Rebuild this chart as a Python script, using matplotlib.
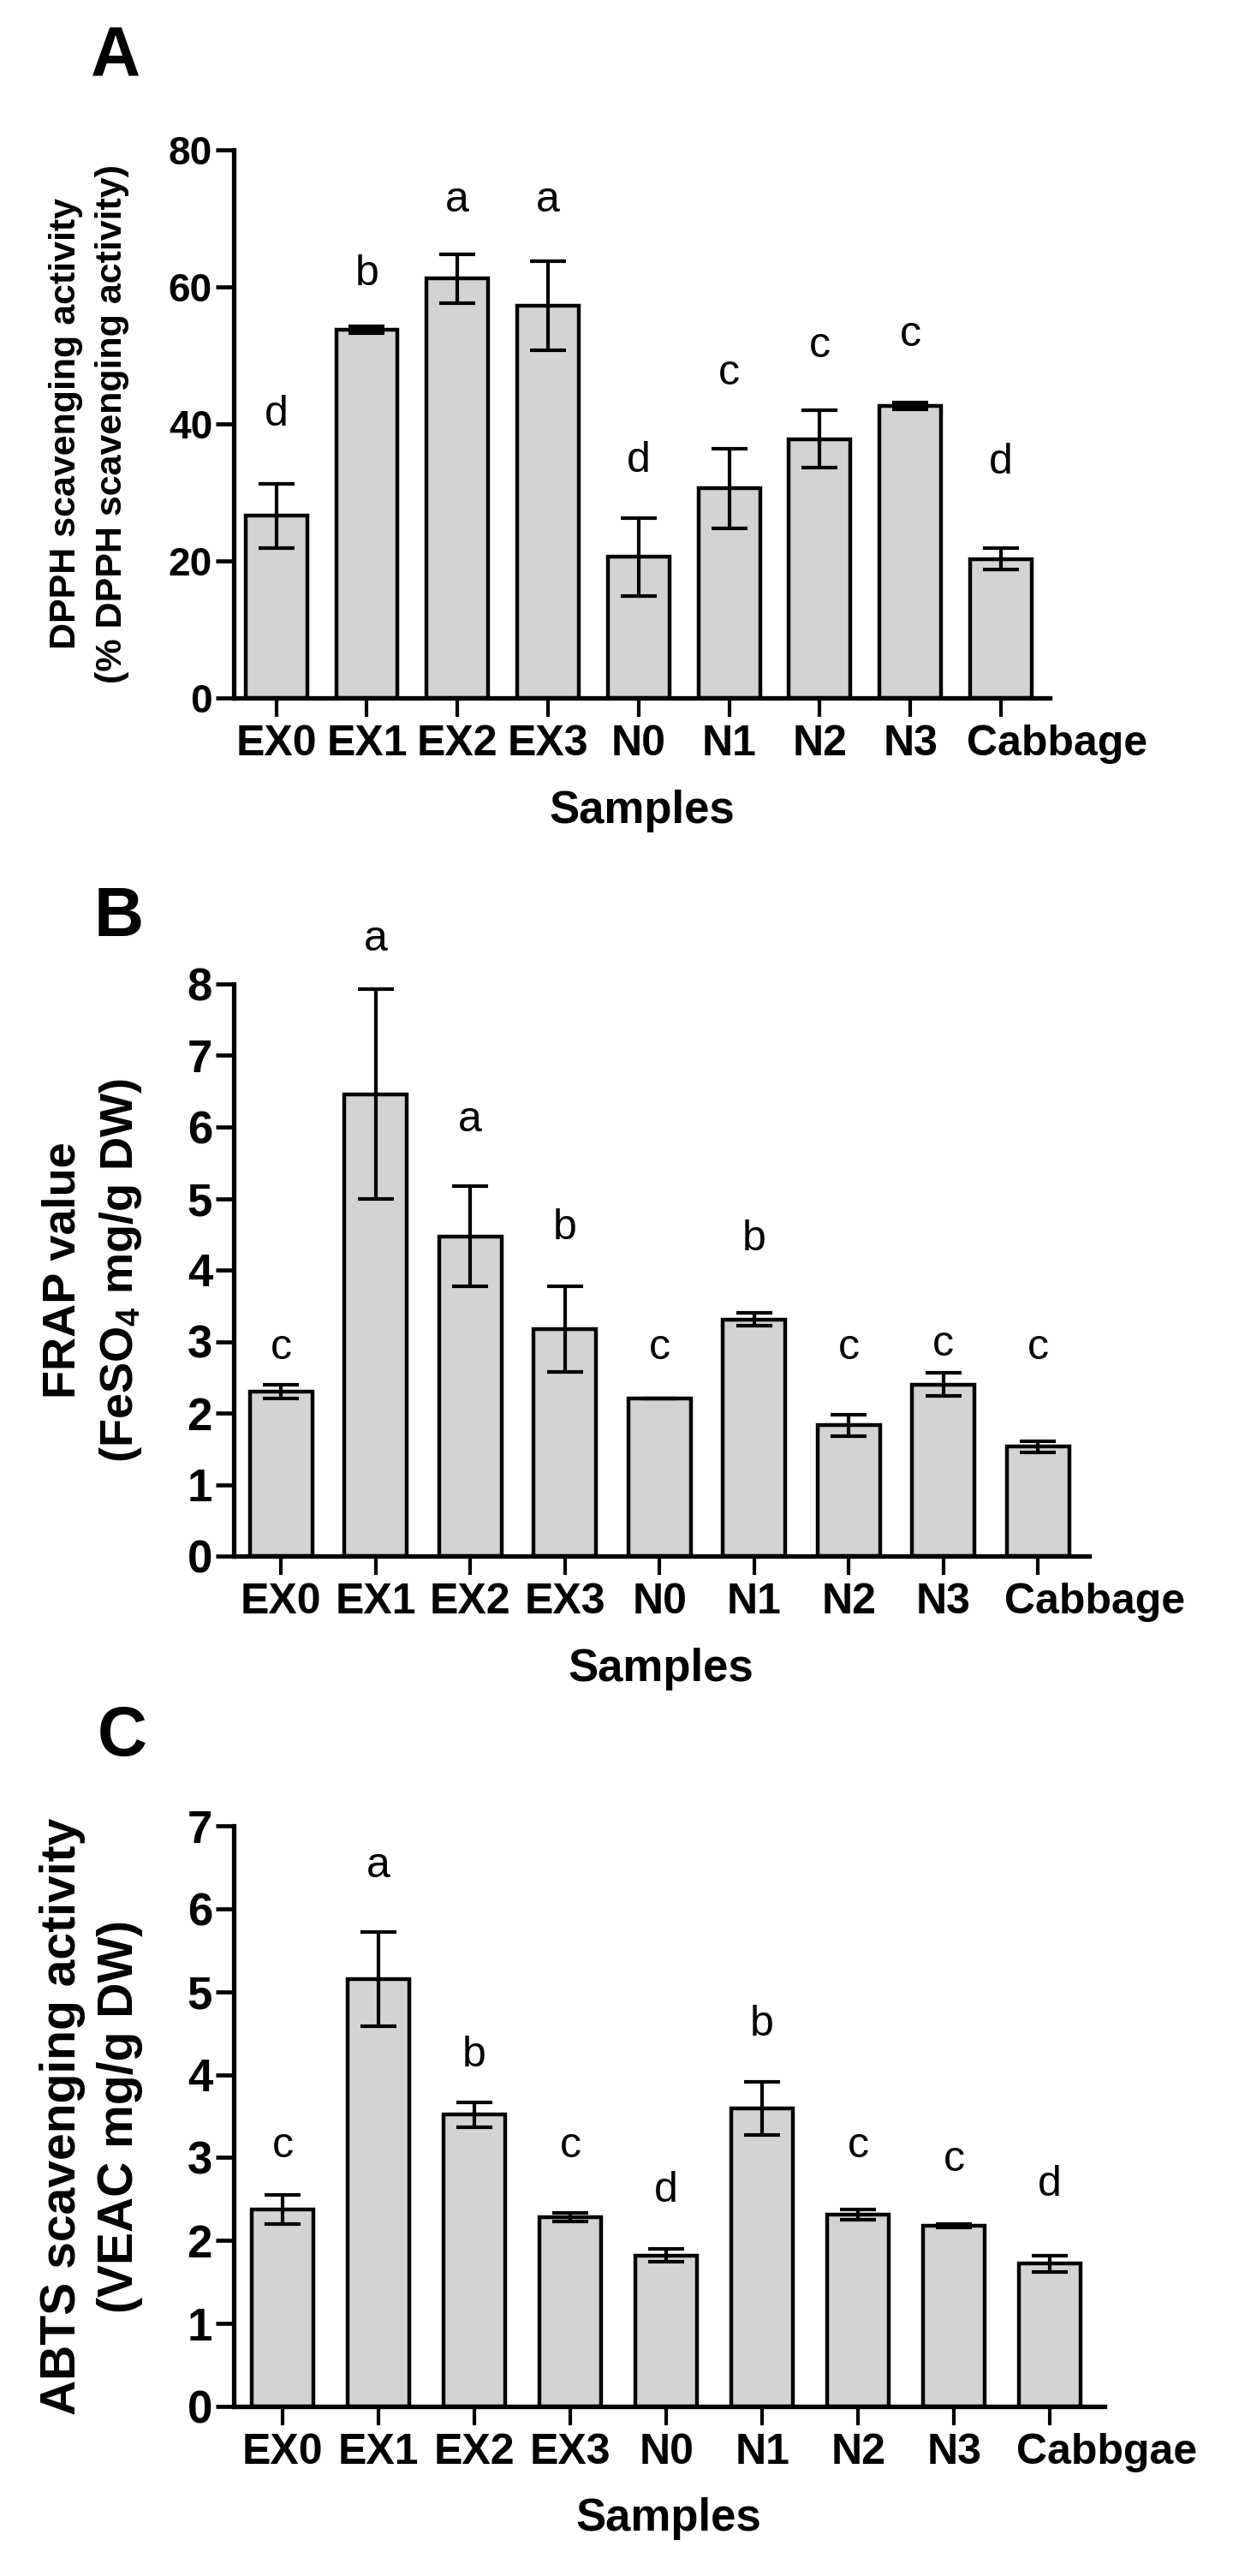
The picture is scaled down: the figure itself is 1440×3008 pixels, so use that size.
"""
Three-panel antioxidant bar chart (DPPH, FRAP, ABTS) with SD error bars
and significance letters. Saves out.png.
"""

import matplotlib.pyplot as plt
from matplotlib.transforms import ScaledTranslation
import numpy as np

plt.rcParams['font.family'] = ['Liberation Sans', 'DejaVu Sans']
plt.rcParams['mathtext.fontset'] = 'custom'
plt.rcParams['mathtext.rm'] = 'Liberation Sans'
plt.rcParams['mathtext.bf'] = 'Liberation Sans:bold'

W, H = 1440, 3008

# sample names (panel C keeps the original spelling)
samples_ab = ["EX0", "EX1", "EX2", "EX3", "N0", "N1", "N2", "N3", "Cabbage"]
samples_c = ["EX0", "EX1", "EX2", "EX3", "N0", "N1", "N2", "N3", "Cabbgae"]

# A: DPPH scavenging activity (%)
dpph_mean = [26.6, 53.7, 61.2, 57.3, 20.6, 30.6, 37.8, 42.6, 20.3]
dpph_err = [4.7, 0.5, 3.6, 6.5, 5.7, 5.8, 4.2, 0.5, 1.6]
dpph_letters = ["d", "b", "a", "a", "d", "c", "c", "c", "d"]
dpph_letter_y = [39.75, 60.25, 71.0, 71.0, 33.0, 45.8, 49.8, 51.4, 32.8]

# B: FRAP value (FeSO4 mg/g DW)
frap_mean = [2.30, 6.46, 4.47, 3.17, 2.20, 3.31, 1.83, 2.40, 1.53]
frap_err = [0.10, 1.47, 0.70, 0.60, 0.0, 0.09, 0.15, 0.16, 0.08]
frap_letters = ["c", "a", "a", "b", "c", "b", "c", "c", "c"]
frap_letter_y = [2.76, 8.47, 5.94, 4.43, 2.76, 4.27, 2.76, 2.80, 2.76]

# C: ABTS scavenging activity (VEAC mg/g DW)
abts_mean = [2.375, 5.15, 3.52, 2.28, 1.82, 3.59, 2.31, 2.18, 1.72]
abts_err = [0.18, 0.57, 0.15, 0.05, 0.08, 0.32, 0.06, 0.02, 0.10]
abts_letters = ["c", "a", "b", "c", "d", "b", "c", "c", "d"]
abts_letter_y = [3.0, 6.38, 4.1, 3.0, 2.47, 4.47, 3.0, 2.84, 2.54]


def fx(x):
    return x / W


def fy(y):
    return 1 - y / H


fig = plt.figure(figsize=(W / 100, H / 100), dpi=100)


def draw_panel(box, names, mean, err, letters, letter_y, ymax, width, xlim,
               ytick_fs, tag, tag_xy, ylines, ylabel_fs, ylabel_x):
    left, top, right, bottom = box
    ax = fig.add_axes([fx(left), fy(bottom), (right - left) / W, (bottom - top) / H])
    x = np.arange(len(names))
    ax.bar(x, mean, width, color="#d3d3d3", edgecolor="black", linewidth=3.2, zorder=2)
    ax.errorbar(x, mean, yerr=err, fmt="none", ecolor="black", elinewidth=3,
                capsize=15, capthick=3, zorder=3)
    for xi, lt, ly in zip(x, letters, letter_y):
        ax.text(xi, ly, lt, ha="center", va="baseline", fontsize=36)
    ax.set_xlim(*xlim)
    ax.set_ylim(0, ymax)
    ax.set_yticks(range(0, ymax + 1, 20 if ymax == 80 else 1))
    ax.set_xticks(x, names)
    for s in ["top", "right"]:
        ax.spines[s].set_visible(False)
    for s in ["left", "bottom"]:
        ax.spines[s].set_linewidth(3.8)
    ax.tick_params(axis="x", direction="out", length=16, width=3, pad=6,
                   labelsize=36)
    ax.tick_params(axis="y", direction="out", length=15, width=3.4, pad=3,
                   labelsize=ytick_fs)
    for lab in ax.get_xticklabels() + ax.get_yticklabels():
        lab.set_fontweight("bold")
    # the last (long) label sits shifted right of its tick, as in the original
    last = ax.get_xticklabels()[-1]
    last.set_transform(last.get_transform()
                       + ScaledTranslation(0.66, 0, fig.dpi_scale_trans))
    # panel tag
    fig.text(fx(tag_xy[0]), fy(tag_xy[1]), tag, ha="center", va="center",
             fontsize=58, fontweight="bold")
    # y label (two lines, rotated, baseline positions in px)
    yc = (top + bottom) / 2
    for txt, bx in zip(ylines, ylabel_x):
        fig.text(fx(bx), fy(yc), txt, rotation=90, rotation_mode="anchor",
                 ha="center", va="baseline", fontsize=ylabel_fs, fontweight="bold")
    return ax


draw_panel((273, 175, 1226, 815), samples_ab, dpph_mean, dpph_err, dpph_letters,
           dpph_letter_y, 80, 0.68, (-0.47, 8.54), 33, "A", (135, 67),
           ["DPPH scavenging activity", "(% DPPH scavenging activity)"], 31, [88, 142])
fig.text(fx(750), fy(961), "Samples", ha="center", va="baseline",
         fontsize=38, fontweight="bold")

draw_panel((273, 1149, 1272, 1817), samples_ab, frap_mean, frap_err, frap_letters,
           frap_letter_y, 8, 0.66, (-0.50, 8.54), 38, "B", (139, 1072),
           ["FRAP value", r"(FeSO$_{\mathbf{4}}$ mg/g DW)"], 39, [88, 155])
fig.text(fx(772), fy(1963), "Samples", ha="center", va="baseline",
         fontsize=38, fontweight="bold")

draw_panel((273, 2132, 1290, 2810), samples_c, abts_mean, abts_err, abts_letters,
           abts_letter_y, 7, 0.64, (-0.51, 8.57), 38, "C", (143, 2029),
           ["ABTS scavenging activity", "(VEAC mg/g DW)"], 41, [88, 155])
fig.text(fx(781), fy(2955), "Samples", ha="center", va="baseline",
         fontsize=38, fontweight="bold")

fig.savefig("out.png", dpi=100)
print("Saved out.png")
